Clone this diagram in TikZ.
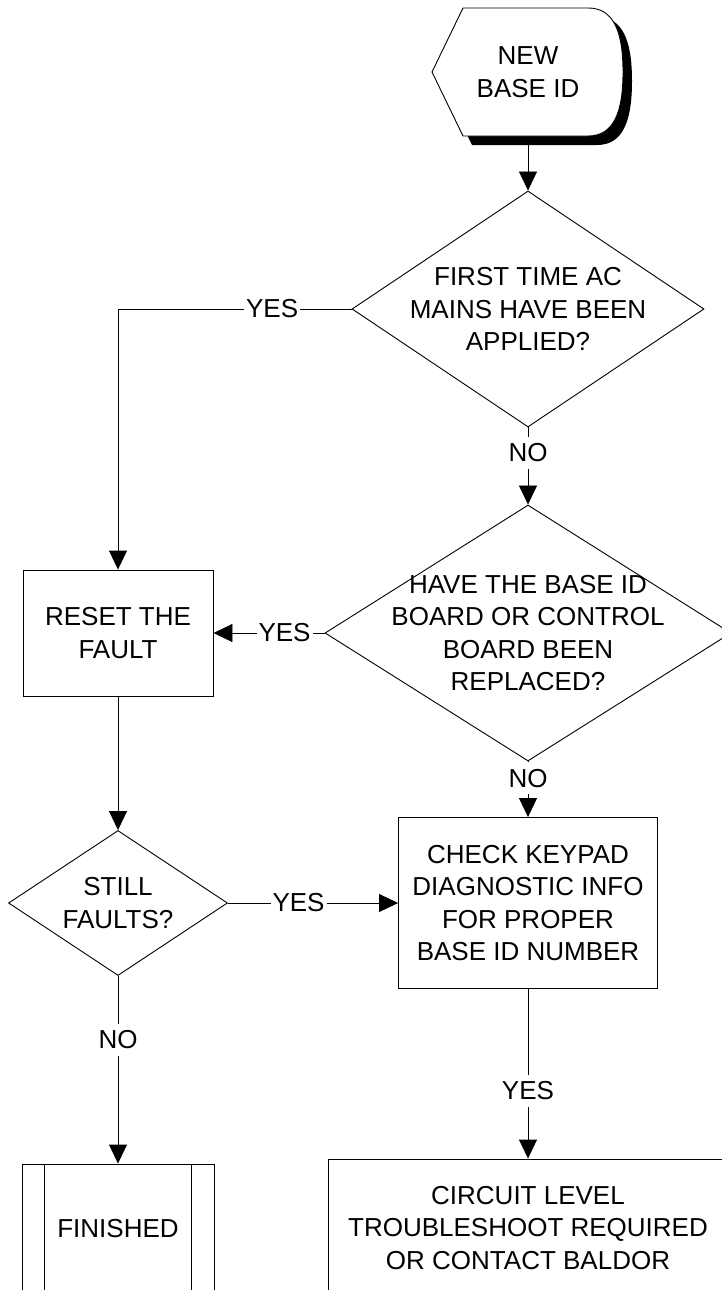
\documentclass[tikz,border=0pt]{standalone}
\usepackage{fontspec}
\setmainfont{Liberation Sans}
\usetikzlibrary{arrows.meta,shapes.geometric,positioning}

\begin{document}
\begin{tikzpicture}[->,>={Triangle[length=19pt,width=18pt]},x=1pt,y=1pt,
                    node distance=270pt,line width=0.9pt,
                    font=\fontsize{26}{32.5}\selectfont]
  \tikzstyle{decision}=[diamond,draw,inner sep=0pt]
  \tikzstyle{block}=[rectangle,draw,align=center]
  \tikzstyle{answer}=[fill=white,inner xsep=2pt,inner ysep=7pt]

  \useasboundingbox (0,0) rectangle (721,-1290);

  % display symbol with its shadow
  \coordinate (s) at (528,-72);
  \begin{scope}[-,shift={(s)}]
    \fill[black,shift={(9,-9)}] (-96,0) -- (-65,64) -- (60,64) .. controls (86,64) and (95,40) .. (95,0)
      .. controls (95,-40) and (86,-64) .. (60,-64) -- (-65,-64) -- cycle;
    \draw[fill=white] (-96,0) -- (-65,64) -- (60,64) .. controls (86,64) and (95,40) .. (95,0)
      .. controls (95,-40) and (86,-64) .. (60,-64) -- (-65,-64) -- cycle;
  \end{scope}

  \node[align=center,minimum height=128pt] (start) at (s) {NEW\\BASE ID};
  \node[decision,minimum width=352pt,minimum height=236pt,
        label={[align=center]center:FIRST TIME AC\\MAINS HAVE BEEN\\APPLIED?}]
        (d1) [below of=start,node distance=237pt] {};
  \node[decision,minimum width=406pt,minimum height=256pt,
        label={[align=center]center:HAVE THE BASE ID\\BOARD OR CONTROL\\BOARD BEEN\\REPLACED?}]
        (d2) [below of=d1,node distance=324pt] {};
  \node[block,minimum width=190pt,minimum height=126pt] (reset) [left of=d2,node distance=410pt] {RESET THE\\FAULT};
  \node[decision,minimum width=219pt,minimum height=145pt,
        label={[align=center]center:STILL\\FAULTS?}]
        (d3) [below of=reset] {};
  \node[block,minimum width=259pt,minimum height=171pt] (check) [below of=d2]
        {CHECK KEYPAD\\DIAGNOSTIC INFO\\FOR PROPER\\BASE ID NUMBER};
  \node[block,minimum width=192pt,minimum height=130pt] (finished) [below of=d3,node distance=326pt] {FINISHED};
  \node[block,minimum width=400pt,minimum height=138pt] (circuit) [below of=check,node distance=325pt]
        {CIRCUIT LEVEL\\TROUBLESHOOT REQUIRED\\OR CONTACT BALDOR};

  \draw[-] ([xshift=23pt]finished.north west) -- ([xshift=23pt]finished.south west);
  \draw[-] ([xshift=-23pt]finished.north east) -- ([xshift=-23pt]finished.south east);

  \path (start) edge (d1)
   (d1) edge              node[answer,pos=0.33] {NO} (d2)
   (d2) edge              node[answer,pos=0.36] {YES} (reset)
   (d2) edge              node[answer,pos=0.3] {NO} (check)
   (reset) edge           (d3)
   (d3) edge              node[answer,pos=0.415] {YES} (check)
   (d3) edge              node[answer,pos=0.34] {NO} (finished)
   (check) edge           node[answer,pos=0.6] {YES} (circuit);
  \draw (d1) -| node[answer,pos=0.17] {YES} (reset);
\end{tikzpicture}
\end{document}
